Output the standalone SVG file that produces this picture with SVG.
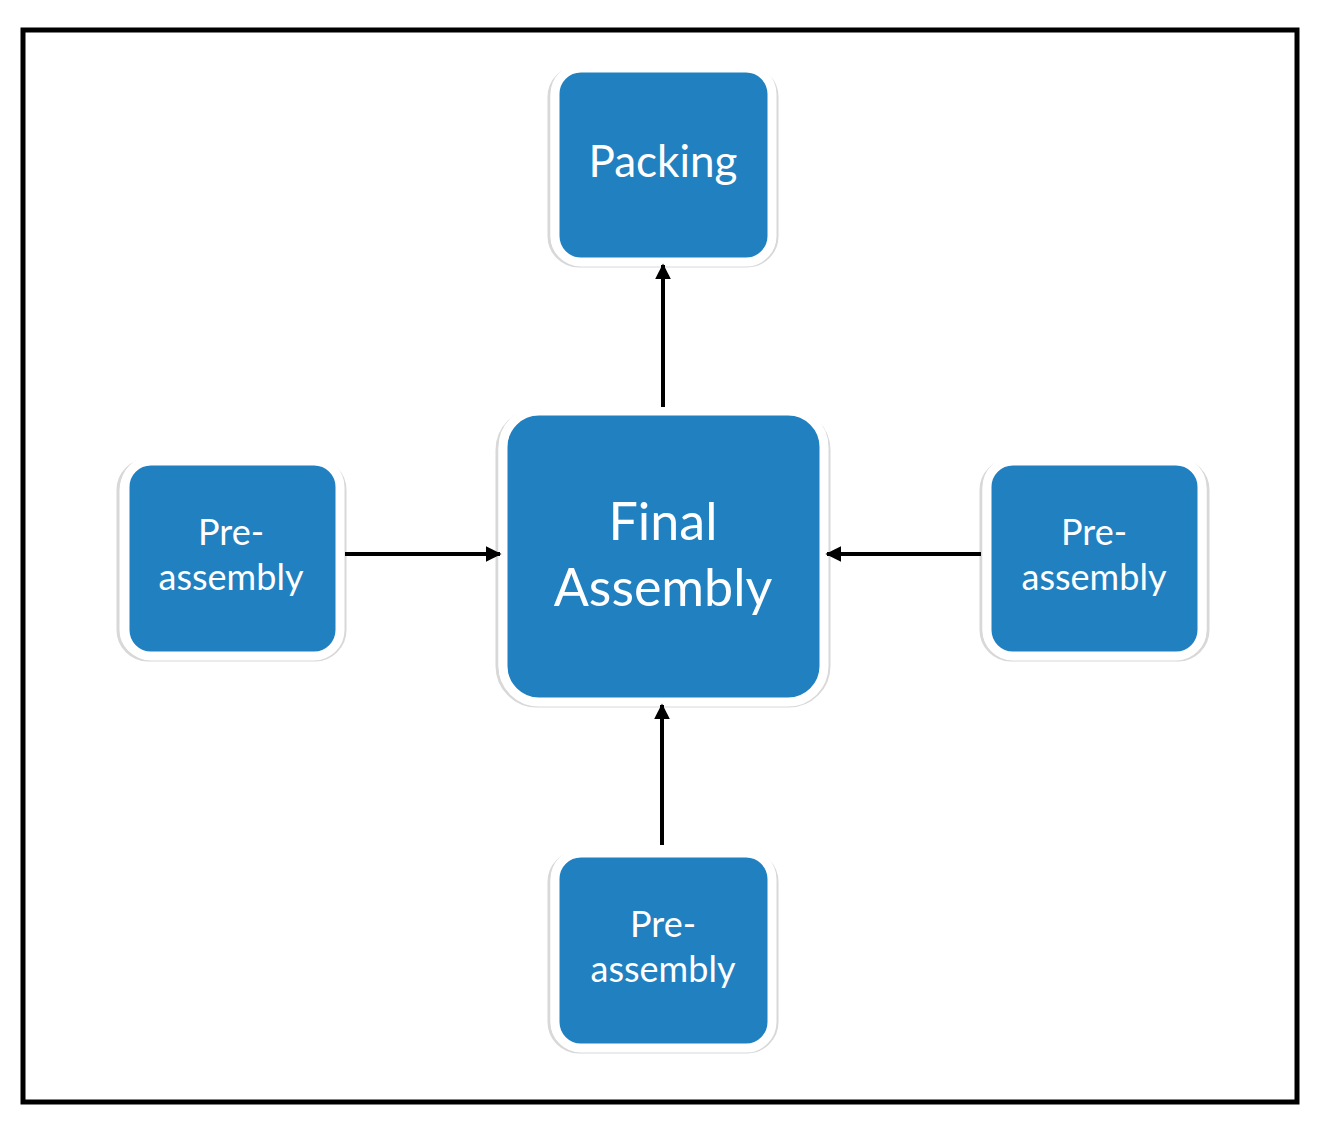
<svg xmlns="http://www.w3.org/2000/svg" width="1318" height="1129" viewBox="0 0 1318 1129">
<defs>
<style>
.box{fill:#2180C0;stroke:#ffffff;stroke-width:9}
.sh{fill:none;stroke:#d8d8d8;stroke-width:3}
.t{fill:#ffffff;font-family:Lato,"Open Sans",sans-serif;text-anchor:middle}
.c{stroke:#000;stroke-width:4;fill:none;marker-end:url(#ah)}
</style>
<marker id="ah" viewBox="0 0 10 10" refX="9" refY="5" markerWidth="4" markerHeight="4" orient="auto"><path d="M0,0L10,5L0,10z" fill="#000"/></marker>
</defs>
<rect width="1318" height="1129" fill="#fff"/>
<rect x="23" y="30" width="1274" height="1072" fill="none" stroke="#000" stroke-width="5"/>
<g id="packing"><rect class="sh" x="549" y="67" width="228" height="199" rx="30"/><rect class="box" x="555" y="68" width="217" height="194" rx="26"/><text class="t" x="663" y="177" font-size="44">Packing</text></g>
<g id="final"><rect class="sh" x="497" y="410" width="332" height="296" rx="40"/><rect class="box" x="503" y="411" width="321" height="291" rx="36"/><text class="t" x="663" y="540" font-size="52">Final</text><text class="t" x="663" y="606" font-size="52">Assembly</text></g>
<g id="pre-left"><rect class="sh" x="118" y="460" width="227" height="200" rx="30"/><rect class="box" x="125" y="461" width="215" height="195" rx="26"/><text class="t" x="231" y="545" font-size="36">Pre-</text><text class="t" x="231" y="590" font-size="36">assembly</text></g>
<g id="pre-right"><rect class="sh" x="981" y="460" width="227" height="200" rx="30"/><rect class="box" x="987" y="461" width="215" height="195" rx="26"/><text class="t" x="1094" y="545" font-size="36">Pre-</text><text class="t" x="1094" y="590" font-size="36">assembly</text></g>
<g id="pre-bottom"><rect class="sh" x="549" y="852" width="228" height="200" rx="30"/><rect class="box" x="555" y="853" width="217" height="195" rx="26"/><text class="t" x="663" y="937" font-size="36">Pre-</text><text class="t" x="663" y="982" font-size="36">assembly</text></g>
<g id="connectors">
<line class="c" x1="663" y1="407" x2="663" y2="265"/>
<line class="c" x1="345" y1="554" x2="500" y2="554"/>
<line class="c" x1="981" y1="554" x2="827" y2="554"/>
<line class="c" x1="662" y1="845" x2="662" y2="705"/>
</g>
</svg>
